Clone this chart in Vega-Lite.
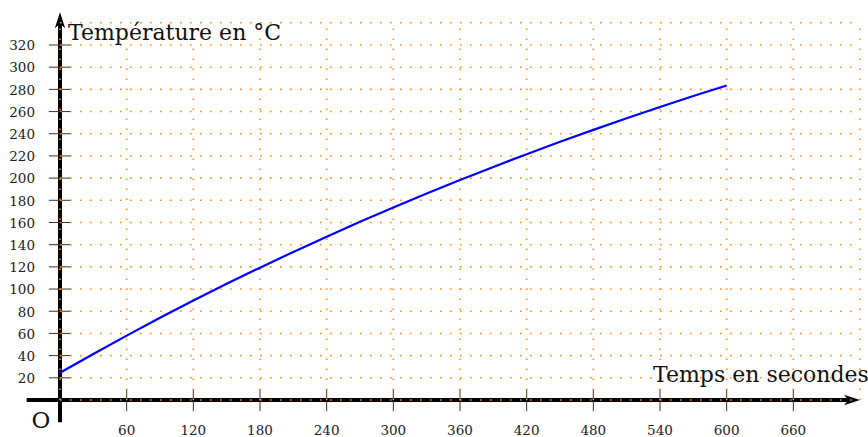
{
  "$schema": "https://vega.github.io/schema/vega-lite/v6.json",
  "width": 868,
  "height": 437,
  "autosize": "none",
  "padding": 0,
  "background": "white",
  "config": {"view": {"stroke": null}, "axis": {"title": null}},
  "data": {"values": [{"one": 1}]},
  "datasets": {
    "curve": [
      {"t": 0, "temp": 24.5}, {"t": 30, "temp": 41.5}, {"t": 60, "temp": 58.0}, {"t": 90, "temp": 74.1},
      {"t": 120, "temp": 89.6}, {"t": 150, "temp": 104.7}, {"t": 180, "temp": 119.3}, {"t": 210, "temp": 133.5},
      {"t": 240, "temp": 147.2}, {"t": 270, "temp": 160.6}, {"t": 300, "temp": 173.5}, {"t": 330, "temp": 186.1},
      {"t": 360, "temp": 198.3}, {"t": 390, "temp": 210.1}, {"t": 420, "temp": 221.6}, {"t": 450, "temp": 232.7},
      {"t": 480, "temp": 243.5}, {"t": 510, "temp": 254.0}, {"t": 540, "temp": 264.1}, {"t": 570, "temp": 274.0},
      {"t": 600, "temp": 283.5}
    ],
    "hgrid": [
      {"v": 0}, {"v": 20}, {"v": 40}, {"v": 60}, {"v": 80}, {"v": 100}, {"v": 120}, {"v": 140}, {"v": 160},
      {"v": 180}, {"v": 200}, {"v": 220}, {"v": 240}, {"v": 260}, {"v": 280}, {"v": 300}, {"v": 320}, {"v": 340}
    ],
    "vgrid": [
      {"v": 0}, {"v": 60}, {"v": 120}, {"v": 180}, {"v": 240}, {"v": 300}, {"v": 360}, {"v": 420},
      {"v": 480}, {"v": 540}, {"v": 600}, {"v": 660}, {"v": 720}
    ],
    "xticks": [
      {"v": 60}, {"v": 120}, {"v": 180}, {"v": 240}, {"v": 300}, {"v": 360}, {"v": 420},
      {"v": 480}, {"v": 540}, {"v": 600}, {"v": 660}
    ],
    "yticks": [
      {"v": 20}, {"v": 40}, {"v": 60}, {"v": 80}, {"v": 100}, {"v": 120}, {"v": 140}, {"v": 160},
      {"v": 180}, {"v": 200}, {"v": 220}, {"v": 240}, {"v": 260}, {"v": 280}, {"v": 300}, {"v": 320}
    ]
  },
  "layer": [
    {
      "mark": {"type": "rule", "stroke": "black", "strokeWidth": 4},
      "encoding": {
        "x": {"datum": -30, "type": "quantitative", "scale": {"domain": [-54, 727.2], "nice": false, "zero": false}, "axis": null},
        "x2": {"datum": 713},
        "y": {"datum": 0, "type": "quantitative", "scale": {"domain": [-33.35, 360.55], "nice": false, "zero": false}, "axis": null}
      }
    },
    {
      "mark": {"type": "rule", "stroke": "black", "strokeWidth": 4},
      "encoding": {
        "x": {"datum": 0, "type": "quantitative", "scale": {"domain": [-54, 727.2], "nice": false, "zero": false}, "axis": null},
        "y": {"datum": -20, "type": "quantitative", "scale": {"domain": [-33.35, 360.55], "nice": false, "zero": false}, "axis": null},
        "y2": {"datum": 342}
      }
    },
    {
      "mark": {"type": "point", "shape": "M0,0 L-2,-0.65 L-1.45,0 L-2,0.65 Z", "size": 256, "filled": true, "color": "black", "opacity": 1},
      "encoding": {
        "x": {"datum": 720, "type": "quantitative", "scale": {"domain": [-54, 727.2], "nice": false, "zero": false}, "axis": null},
        "y": {"datum": 0, "type": "quantitative", "scale": {"domain": [-33.35, 360.55], "nice": false, "zero": false}, "axis": null}
      }
    },
    {
      "mark": {"type": "point", "shape": "M0,0 L-0.65,2 L0,1.45 L0.65,2 Z", "size": 256, "filled": true, "color": "black", "opacity": 1},
      "encoding": {
        "x": {"datum": 0, "type": "quantitative", "scale": {"domain": [-54, 727.2], "nice": false, "zero": false}, "axis": null},
        "y": {"datum": 349.5, "type": "quantitative", "scale": {"domain": [-33.35, 360.55], "nice": false, "zero": false}, "axis": null}
      }
    },
    {
      "data": {"name": "xticks"},
      "mark": {"type": "rule", "stroke": "#333333", "strokeWidth": 1},
      "encoding": {
        "x": {"field": "v", "type": "quantitative", "scale": {"domain": [-54, 727.2], "nice": false, "zero": false}, "axis": null},
        "y": {"datum": -10, "type": "quantitative", "scale": {"domain": [-33.35, 360.55], "nice": false, "zero": false}, "axis": null},
        "y2": {"datum": 10}
      }
    },
    {
      "data": {"name": "yticks"},
      "mark": {"type": "rule", "stroke": "#333333", "strokeWidth": 1},
      "encoding": {
        "y": {"field": "v", "type": "quantitative", "scale": {"domain": [-33.35, 360.55], "nice": false, "zero": false}, "axis": null},
        "x": {"datum": -10, "type": "quantitative", "scale": {"domain": [-54, 727.2], "nice": false, "zero": false}, "axis": null},
        "x2": {"datum": 10}
      }
    },
    {
      "data": {"name": "hgrid"},
      "mark": {"type": "rule", "stroke": "#ff8c1a", "strokeWidth": 1.6, "strokeDash": [1.6, 8.4]},
      "encoding": {
        "y": {"field": "v", "type": "quantitative", "scale": {"domain": [-33.35, 360.55], "nice": false, "zero": false}, "axis": null},
        "x": {"datum": 0, "type": "quantitative", "scale": {"domain": [-54, 727.2], "nice": false, "zero": false}, "axis": null},
        "x2": {"datum": 720}
      }
    },
    {
      "data": {"name": "vgrid"},
      "mark": {"type": "rule", "stroke": "#ff8c1a", "strokeWidth": 1.6, "strokeDash": [1.6, 8.4]},
      "encoding": {
        "x": {"field": "v", "type": "quantitative", "scale": {"domain": [-54, 727.2], "nice": false, "zero": false}, "axis": null},
        "y": {"datum": 0, "type": "quantitative", "scale": {"domain": [-33.35, 360.55], "nice": false, "zero": false}, "axis": null},
        "y2": {"datum": 340}
      }
    },
    {
      "data": {"name": "xticks"},
      "mark": {"type": "text", "font": "DejaVu Serif", "fontSize": 13.5, "align": "center", "baseline": "alphabetic", "color": "#222222"},
      "encoding": {
        "x": {"field": "v", "type": "quantitative", "scale": {"domain": [-54, 727.2], "nice": false, "zero": false}, "axis": null},
        "y": {"datum": -31.4, "type": "quantitative", "scale": {"domain": [-33.35, 360.55], "nice": false, "zero": false}, "axis": null},
        "text": {"field": "v", "type": "quantitative"}
      }
    },
    {
      "data": {"name": "yticks"},
      "mark": {"type": "text", "font": "DejaVu Serif", "fontSize": 13.5, "align": "right", "baseline": "alphabetic", "dy": 5.3, "color": "#222222"},
      "encoding": {
        "y": {"field": "v", "type": "quantitative", "scale": {"domain": [-33.35, 360.55], "nice": false, "zero": false}, "axis": null},
        "x": {"datum": -22.5, "type": "quantitative", "scale": {"domain": [-54, 727.2], "nice": false, "zero": false}, "axis": null},
        "text": {"field": "v", "type": "quantitative"}
      }
    },
    {
      "data": {"name": "curve"},
      "mark": {"type": "line", "stroke": "#0000ff", "strokeWidth": 2.2, "interpolate": "monotone"},
      "encoding": {
        "x": {"field": "t", "type": "quantitative", "scale": {"domain": [-54, 727.2], "nice": false, "zero": false}, "axis": null},
        "y": {"field": "temp", "type": "quantitative", "scale": {"domain": [-33.35, 360.55], "nice": false, "zero": false}, "axis": null}
      }
    },
    {
      "mark": {"type": "text", "text": "Température en °C", "font": "DejaVu Serif", "fontSize": 22, "align": "left", "baseline": "alphabetic", "color": "#111111"},
      "encoding": {
        "x": {"datum": 7.2, "type": "quantitative", "scale": {"domain": [-54, 727.2], "nice": false, "zero": false}, "axis": null},
        "y": {"datum": 324.5, "type": "quantitative", "scale": {"domain": [-33.35, 360.55], "nice": false, "zero": false}, "axis": null}
      }
    },
    {
      "mark": {"type": "text", "text": "Temps en secondes", "font": "DejaVu Serif", "fontSize": 22, "align": "left", "baseline": "alphabetic", "color": "#111111"},
      "encoding": {
        "x": {"datum": 533.7, "type": "quantitative", "scale": {"domain": [-54, 727.2], "nice": false, "zero": false}, "axis": null},
        "y": {"datum": 16.5, "type": "quantitative", "scale": {"domain": [-33.35, 360.55], "nice": false, "zero": false}, "axis": null}
      }
    },
    {
      "mark": {"type": "text", "text": "O", "font": "DejaVu Serif", "fontSize": 23, "align": "center", "baseline": "alphabetic", "color": "#111111"},
      "encoding": {
        "x": {"datum": -17.1, "type": "quantitative", "scale": {"domain": [-54, 727.2], "nice": false, "zero": false}, "axis": null},
        "y": {"datum": -25.2, "type": "quantitative", "scale": {"domain": [-33.35, 360.55], "nice": false, "zero": false}, "axis": null}
      }
    }
  ]
}
